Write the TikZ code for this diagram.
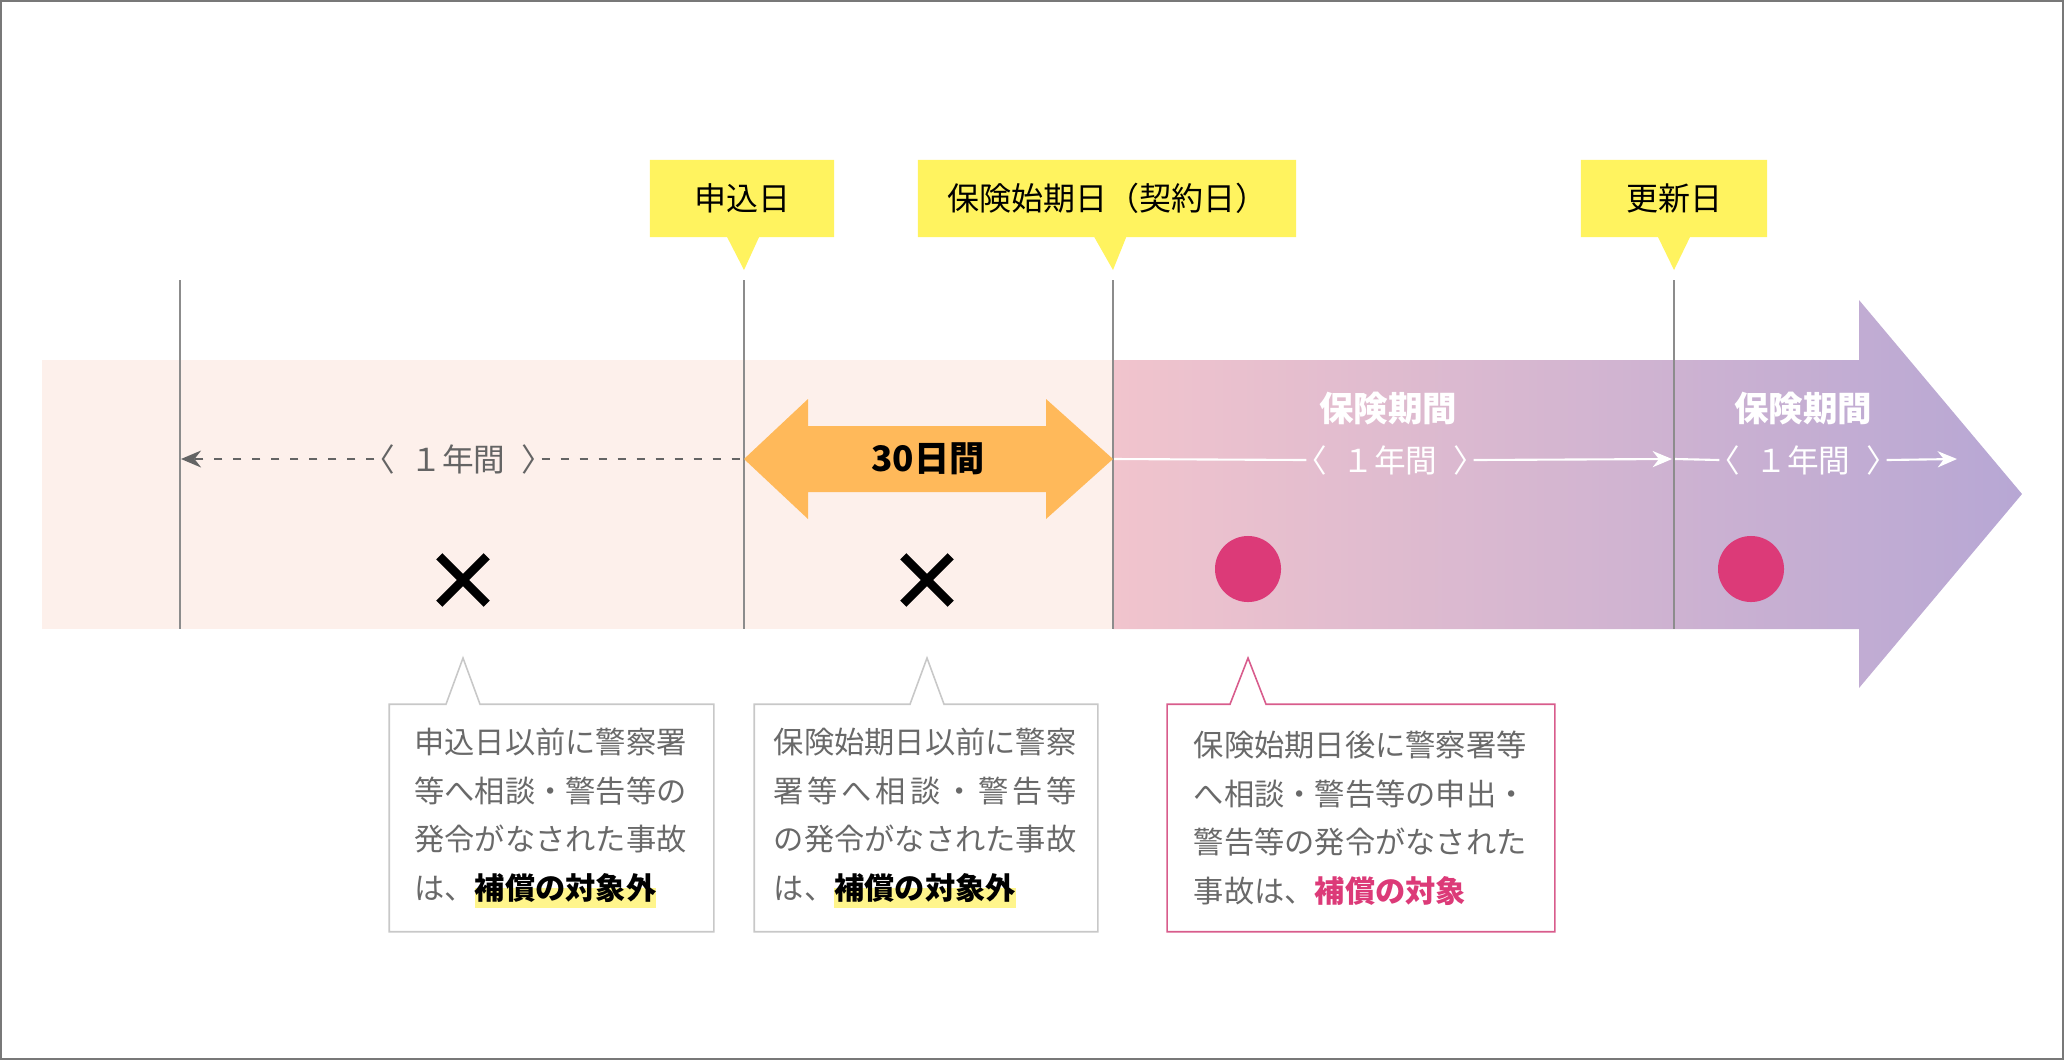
\documentclass[tikz,border=0pt]{standalone}
\usepackage{fontspec}
\setmainfont{Noto Sans CJK JP}
\usetikzlibrary{arrows.meta,shapes.callouts}

\definecolor{bandpale}{RGB}{253,240,235}
\definecolor{bandpink}{RGB}{241,196,205}
\definecolor{bandlilac}{RGB}{183,167,212}
\definecolor{dateyellow}{RGB}{255,243,95}
\definecolor{spanorange}{RGB}{255,185,90}
\definecolor{okpink}{RGB}{220,58,120}
\definecolor{notegray}{RGB}{105,105,105}
\definecolor{boxgray}{RGB}{200,200,200}
\definecolor{boxpink}{RGB}{216,92,140}
\definecolor{markyellow}{RGB}{255,245,140}
\definecolor{linegray}{RGB}{140,140,140}
\definecolor{dashgray}{RGB}{100,100,100}
\definecolor{framegray}{RGB}{120,120,120}

% yellow marker under a few words
\newlength\hlwd
\newcommand{\hlmark}[1]{\settowidth{\hlwd}{#1}\rlap{\textcolor{markyellow}{\rule[-0.27em]{\hlwd}{0.64em}}}#1}
% one year label
\newcommand{\oneyear}{〈\hspace{0.5em}１年間\hspace{0.5em}〉}

\begin{document}
\begin{tikzpicture}[x=0.01cm, y=-0.01cm,
    datebox/.style={rectangle callout, fill=dateyellow, inner sep=0pt, minimum height=0.77cm,
      callout pointer width=0.32cm, font=\fontsize{9.1}{11}\selectfont},
    markline/.style={linegray, line width=0.5pt},
    dashline/.style={dashgray, line width=0.57pt, dash pattern=on 2.3pt off 3.1pt},
    whiteline/.style={white, line width=0.6pt},
    yearlabel/.style={inner sep=0pt, font=\fontsize{9}{10}\selectfont},
    periodlabel/.style={white, inner sep=0pt, font=\fontsize{9.8}{11}\selectfont\bfseries},
    ngmark/.style={minimum size=0.46cm, inner sep=0pt},
    ngline/.style={black, line width=2.5pt},
    okdot/.style={circle, fill=okpink, minimum size=0.66cm, inner sep=0pt},
    note/.style={minimum height=2.26cm, inner sep=0pt, align=left, text=notegray,
      font=\fontsize{8.6}{13.8}\selectfont},
    noteline/.style={boxgray, line width=0.45pt}]
  \useasboundingbox (0,0) rectangle (2064,1060);
  \draw[framegray, line width=0.57pt] (1,1) rectangle (2063,1059);

  % time band
  \fill[bandpale] (42,360) rectangle (1113,629);
  \shade[left color=bandpink, right color=bandlilac] (1113,360) -- (1859,360) -- (1859,300)
    -- (2022,494) -- (1859,688) -- (1859,629) -- (1113,629) -- cycle;

  % date marks
  \foreach \x in {180,744,1113,1674}
    \draw[markline] (\x,280) -- (\x,629);
  \coordinate (a1) at (744,270);
  \coordinate (a2) at (1113,270);
  \coordinate (a3) at (1674,270);
  \node[datebox, minimum width=1.84cm, callout absolute pointer={(a1)}] (apply) at (742,198.5) {申込日};
  \node[datebox, minimum width=3.78cm, callout absolute pointer={(a2)}] (start) at (1107,198.5) {保険始期日（契約日）};
  \node[datebox, minimum width=1.86cm, callout absolute pointer={(a3)}] (renew) at (1674,198.5) {更新日};

  % one year before the application
  \coordinate (d0) at (181,459);
  \coordinate (d1) at (744,459);
  \node[yearlabel, text=dashgray] (lab0) at (458,459) {\oneyear};
  \draw[dashline, -{Stealth[length=5.7pt,width=4.8pt]}] ([xshift=0.12cm]lab0.west) -- (d0);
  \draw[dashline] ([xshift=-0.12cm]lab0.east) -- (d1);

  % 30 days
  \fill[spanorange] (744,459) -- (808,399) -- (808,426) -- (1046,426) -- (1046,399) -- (1113,459)
    -- (1046,519) -- (1046,492) -- (808,492) -- (808,519) -- cycle;
  \node[font=\fontsize{10}{11}\selectfont\bfseries] (span) at (928,459) {30日間};

  % insurance periods
  \coordinate (w1) at (1114,459);
  \coordinate (w2) at (1672,459);
  \coordinate (w3) at (1675,459);
  \coordinate (w4) at (1957,459);
  \node[periodlabel] (per1) at (1388,409) {保険期間};
  \node[yearlabel, text=white] (yr1) at (1390,460) {\oneyear};
  \draw[whiteline] (w1) -- ([xshift=0.12cm]yr1.west);
  \draw[whiteline, -{Stealth[length=5.5pt,width=4.6pt]}] ([xshift=-0.12cm]yr1.east) -- (w2);
  \node[periodlabel] (per2) at (1803,409) {保険期間};
  \node[yearlabel, text=white] (yr2) at (1803,460) {\oneyear};
  \draw[whiteline] (w3) -- ([xshift=0.12cm]yr2.west);
  \draw[whiteline, -{Stealth[length=5.5pt,width=4.6pt]}] ([xshift=-0.12cm]yr2.east) -- (w4);

  % marks
  \node[ngmark] (ng1) at (463,580) {};
  \node[ngmark] (ng2) at (927,580) {};
  \draw[ngline] (ng1.north west) -- (ng1.south east) (ng1.north east) -- (ng1.south west);
  \draw[ngline] (ng2.north west) -- (ng2.south east) (ng2.north east) -- (ng2.south west);
  \node[okdot] (ok1) at (1248,569) {};
  \node[okdot] (ok2) at (1751,569) {};

  % notes
  \coordinate (tip1) at (463,658);
  \coordinate (tip2) at (927,658);
  \coordinate (tip3) at (1248,658);
  \node[note, minimum width=3.23cm, text width=78pt] (note1) at (551.5,818)
    {申込日以前に警察署\\等へ相談・警告等の\\発令がなされた事故\\は、\textcolor{black}{\hlmark{\bfseries 補償の対象外}}};
  \node[note, minimum width=3.42cm, text width=86.5pt] (note2) at (926,818)
    {保険始期日以前に警察\\\makebox[86pt][s]{署\hfill 等\hfill へ\hfill 相\hfill 談\hfill ・\hfill 警\hfill 告\hfill 等}\\の発令がなされた事故\\は、\textcolor{black}{\hlmark{\bfseries 補償の対象外}}};
  \node[note, minimum width=3.86cm, text width=95pt] (note3) at (1361,818)
    {保険始期日後に警察署等\\へ相談・警告等の申出・\\警告等の発令がなされた\\事故は、\textcolor{okpink}{\bfseries 補償の対象}};
  \draw[noteline] (note1.north west) -- ([xshift=-0.17cm]tip1 |- note1.north) -- (tip1)
    -- ([xshift=0.17cm]tip1 |- note1.north) -- (note1.north east) -- (note1.south east) -- (note1.south west) -- cycle;
  \draw[noteline] (note2.north west) -- ([xshift=-0.17cm]tip2 |- note2.north) -- (tip2)
    -- ([xshift=0.17cm]tip2 |- note2.north) -- (note2.north east) -- (note2.south east) -- (note2.south west) -- cycle;
  \draw[noteline, boxpink] (note3.north west) -- ([xshift=-0.18cm]tip3 |- note3.north) -- (tip3)
    -- ([xshift=0.18cm]tip3 |- note3.north) -- (note3.north east) -- (note3.south east) -- (note3.south west) -- cycle;
\end{tikzpicture}
\end{document}
